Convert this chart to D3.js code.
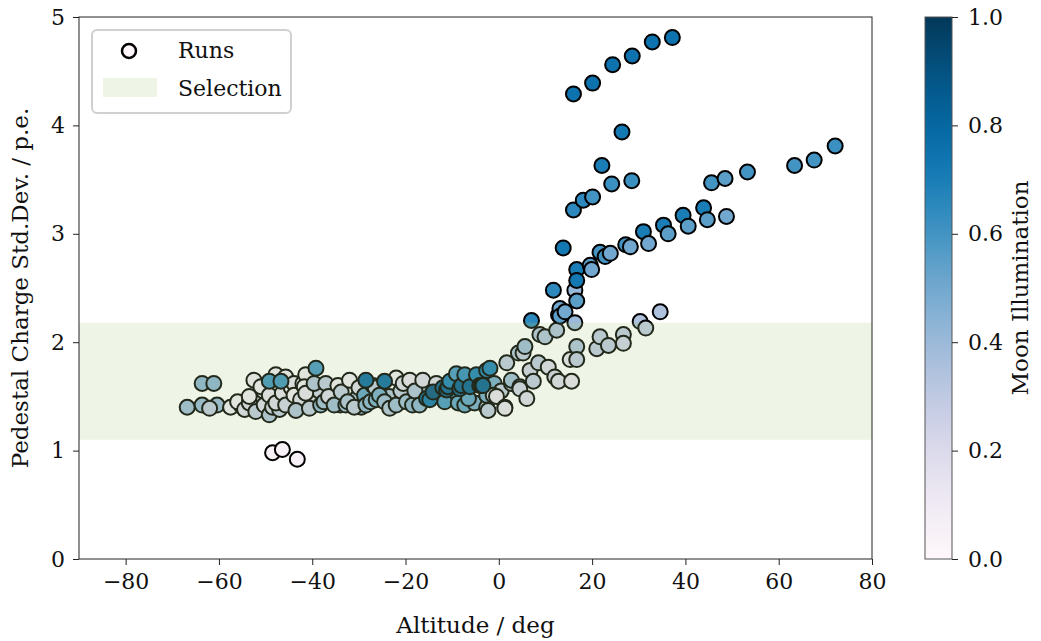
<!DOCTYPE html>
<html>
<head>
<meta charset="utf-8">
<script src="https://cdn.jsdelivr.net/npm/d3@7"></script>
<style>
  body { margin: 0; background: #fff; }
  svg text { font-family: "DejaVu Serif", serif; fill: #111; }
</style>
</head>
<body>
<div id="container"></div>
<script>
// runs as [altitude (deg), pedestal charge std dev (p.e.), moon illumination]
const runsBand = [
  [-66.8, 1.40, 0.40], [-63.6, 1.62, 0.45], [-61.1, 1.62, 0.45], [-63.6, 1.42, 0.42],
  [-60.4, 1.42, 0.42], [-62.0, 1.39, 0.30], [-57.5, 1.40, 0.10], [-55.3, 1.42, 0.15],
  [-56.0, 1.45, 0.10], [-54.5, 1.38, 0.20], [-51.5, 1.47, 0.10], [-50.5, 1.55, 0.10],
  [-53.5, 1.44, 0.20], [-53.5, 1.50, 0.10], [-52.5, 1.65, 0.10], [-52.1, 1.36, 0.30],
  [-51.0, 1.59, 0.10], [-50.3, 1.42, 0.20], [-49.2, 1.33, 0.35], [-49.2, 1.51, 0.15],
  [-48.5, 1.40, 0.25], [-47.0, 1.38, 0.30], [-46.0, 1.48, 0.10], [-44.8, 1.45, 0.20],
  [-47.8, 1.70, 0.10], [-47.8, 1.44, 0.20], [-46.4, 1.53, 0.15], [-45.7, 1.68, 0.10],
  [-45.7, 1.42, 0.25], [-44.5, 1.58, 0.10], [-43.9, 1.62, 0.15], [-43.9, 1.51, 0.10],
  [-42.5, 1.47, 0.20], [-42.0, 1.62, 0.15], [-40.0, 1.48, 0.20], [-38.5, 1.55, 0.25],
  [-43.5, 1.37, 0.35], [-41.4, 1.70, 0.10], [-41.7, 1.59, 0.10], [-41.4, 1.53, 0.15],
  [-40.6, 1.39, 0.30], [-39.6, 1.62, 0.35], [-38.2, 1.42, 0.45], [-37.1, 1.62, 0.30],
  [-37.5, 1.45, 0.40], [-34.0, 1.42, 0.40], [-30.5, 1.48, 0.35], [-29.5, 1.40, 0.40],
  [-36.5, 1.50, 0.20], [-35.3, 1.42, 0.40], [-34.5, 1.60, 0.10], [-33.8, 1.54, 0.30],
  [-32.8, 1.42, 0.40], [-32.0, 1.65, 0.10], [-32.4, 1.45, 0.35], [-31.0, 1.40, 0.30],
  [-30.0, 1.58, 0.20], [-28.8, 1.51, 0.55], [-28.5, 1.42, 0.45], [-27.0, 1.60, 0.30],
  [-27.5, 1.45, 0.45], [-26.5, 1.58, 0.30], [-23.5, 1.50, 0.35], [-21.0, 1.45, 0.40],
  [-26.3, 1.47, 0.50], [-25.6, 1.51, 0.50], [-24.5, 1.45, 0.40], [-23.4, 1.39, 0.35],
  [-22.0, 1.67, 0.10], [-22.0, 1.42, 0.40], [-21.0, 1.55, 0.30], [-19.8, 1.45, 0.40],
  [-20.5, 1.62, 0.20], [-18.5, 1.42, 0.45], [-16.0, 1.55, 0.40], [-9.5, 1.50, 0.60],
  [-19.1, 1.65, 0.15], [-18.0, 1.55, 0.35], [-17.0, 1.42, 0.45], [-16.3, 1.65, 0.20],
  [-13.4, 1.62, 0.20], [-12.5, 1.50, 0.60], [-11.6, 1.45, 0.60], [-8.7, 1.44, 0.55],
  [-7.3, 1.42, 0.55], [-5.2, 1.44, 0.50], [-2.6, 1.40, 0.35], [-2.6, 1.51, 0.50],
  [-6.5, 1.48, 0.55], [-1.0, 1.62, 0.50], [0.5, 1.55, 0.30],
  [-2.3, 1.37, 0.30], [-1.2, 1.51, 0.30], [-0.5, 1.50, 0.15], [1.3, 1.40, 0.20],
  [1.3, 1.39, 0.15],
  [-49.2, 1.64, 0.62], [-46.7, 1.64, 0.62], [-39.2, 1.76, 0.60], [-28.5, 1.65, 0.80],
  [-24.5, 1.64, 0.80], [-15.5, 1.48, 0.85], [-14.8, 1.47, 0.75], [-14.1, 1.54, 0.90],
  [-12.0, 1.58, 0.85], [-5.5, 1.62, 0.85],
  [-11.2, 1.56, 0.90], [-10.9, 1.59, 0.85], [-10.5, 1.64, 0.70], [-9.1, 1.71, 0.60],
  [-8.4, 1.57, 0.90], [-8.0, 1.60, 0.85], [-7.3, 1.70, 0.65], [-6.2, 1.59, 0.85],
  [-4.8, 1.70, 0.70], [-4.1, 1.60, 0.90], [-3.7, 1.60, 0.85], [-3.4, 1.60, 0.85],
  [-2.6, 1.74, 0.70], [-1.9, 1.76, 0.70]
];

const runsRising = [
  [1.7, 1.81, 0.30], [2.7, 1.62, 0.30], [2.7, 1.65, 0.40], [4.2, 1.90, 0.35],
  [4.5, 1.59, 0.30], [4.5, 1.57, 0.25], [5.2, 1.90, 0.30], [5.6, 1.96, 0.40],
  [6.0, 1.48, 0.20], [6.7, 1.74, 0.25], [7.0, 2.20, 0.65], [7.4, 1.64, 0.30],
  [8.5, 1.81, 0.30], [8.8, 2.07, 0.35], [9.9, 2.05, 0.35], [10.6, 1.77, 0.20],
  [11.7, 2.48, 0.65], [12.0, 1.68, 0.25], [12.4, 2.11, 0.35], [12.8, 1.64, 0.20],
  [12.8, 2.25, 0.45], [13.1, 2.31, 0.50], [13.1, 2.24, 0.55], [13.8, 2.87, 0.72],
  [14.2, 2.28, 0.50], [15.3, 1.84, 0.15], [15.6, 1.64, 0.15], [16.0, 3.22, 0.65],
  [16.3, 2.48, 0.40], [16.3, 2.18, 0.40], [16.7, 2.67, 0.70], [16.7, 2.57, 0.72],
  [16.7, 2.38, 0.55], [16.7, 1.96, 0.35], [16.7, 1.84, 0.30]
];

const runsMidBranch = [
  [18.1, 3.31, 0.65], [19.6, 2.71, 0.55], [19.9, 2.67, 0.50], [20.1, 3.34, 0.60],
  [21.0, 1.94, 0.30], [21.7, 2.83, 0.60], [21.7, 2.05, 0.30], [22.1, 3.63, 0.70],
  [22.8, 2.79, 0.60], [23.5, 1.97, 0.30], [23.9, 2.82, 0.50], [24.2, 3.46, 0.62],
  [26.4, 3.94, 0.72], [26.7, 2.07, 0.30], [26.7, 1.99, 0.25], [27.2, 2.90, 0.60],
  [28.2, 2.88, 0.50], [28.5, 3.49, 0.62], [30.3, 2.19, 0.35], [31.0, 3.02, 0.70],
  [31.5, 2.13, 0.30], [32.1, 2.91, 0.50], [34.6, 2.28, 0.35], [35.3, 3.08, 0.70],
  [36.3, 3.00, 0.55], [39.5, 3.17, 0.70], [40.6, 3.07, 0.55], [43.9, 3.24, 0.70],
  [44.7, 3.13, 0.55], [45.6, 3.47, 0.60], [48.5, 3.51, 0.55], [48.8, 3.16, 0.50],
  [53.3, 3.57, 0.60], [63.4, 3.63, 0.60], [67.6, 3.68, 0.60], [72.1, 3.81, 0.62]
];

const runsUpperBranch = [
  [16.0, 4.29, 0.75], [20.1, 4.39, 0.75], [24.4, 4.56, 0.75],
  [28.6, 4.64, 0.75], [32.9, 4.77, 0.75], [37.2, 4.81, 0.75]
];

const runsLow = [[-48.5, 0.98, 0.05], [-46.4, 1.01, 0.05], [-43.2, 0.92, 0.05]];

// selection band limits
const selectionRange = [1.1, 2.18];

const xTicks = [-80, -60, -40, -20, 0, 20, 40, 60, 80];
const yTicks = [0, 1, 2, 3, 4, 5];
const cbTicks = [0, 0.2, 0.4, 0.6, 0.8, 1.0];

const width = 1041;
const height = 641;
const plot = { left: 79, right: 872, top: 17, bottom: 559 };
const cbar = { left: 925, right: 952 };
const tickFont = 22;
const labelFont = 23;

const svg = d3.select("#container").append("svg")
  .attr("width", width)
  .attr("height", height);

const x = d3.scaleLinear().domain([-90, 80]).range([plot.left, plot.right]);
const y = d3.scaleLinear().domain([0, 5]).range([plot.bottom, plot.top]);
const color = d3.scaleSequential(d3.interpolatePuBu).domain([0, 1]);

const allRuns = runsBand.concat(runsRising, runsMidBranch, runsUpperBranch, runsLow);

// scatter points
svg.append("g")
  .selectAll("circle")
  .data(allRuns)
  .enter()
  .append("circle")
  .attr("cx", (d) => x(d[0]))
  .attr("cy", (d) => y(d[1]))
  .attr("r", 7.5)
  .attr("fill", (d) => color(d[2]))
  .attr("stroke", "#000")
  .attr("stroke-width", 2);

// selection band drawn over the points, semi transparent
svg.append("rect")
  .attr("x", plot.left)
  .attr("width", plot.right - plot.left)
  .attr("y", y(selectionRange[1]))
  .attr("height", y(selectionRange[0]) - y(selectionRange[1]))
  .attr("fill", "#aacd82")
  .attr("opacity", 0.2);

// frame
svg.append("rect")
  .attr("x", plot.left)
  .attr("y", plot.top)
  .attr("width", plot.right - plot.left)
  .attr("height", plot.bottom - plot.top)
  .attr("fill", "none")
  .attr("stroke", "#222")
  .attr("stroke-width", 1);

// axes
const xAxis = d3.axisBottom(x).tickValues(xTicks).tickFormat(d3.format("d")).tickSize(6).tickPadding(8);
const yAxis = d3.axisLeft(y).tickValues(yTicks).tickFormat(d3.format("d")).tickSize(6).tickPadding(8);

const gx = svg.append("g")
  .attr("transform", "translate(0," + plot.bottom + ")")
  .call(xAxis);
const gy = svg.append("g")
  .attr("transform", "translate(" + plot.left + ",0)")
  .call(yAxis);

[gx, gy].forEach((g) => {
  g.select(".domain").remove();
  g.selectAll("line").attr("stroke", "#222");
  g.selectAll("text").attr("font-size", tickFont).attr("font-family", "DejaVu Serif").attr("fill", "#111");
});

svg.append("text")
  .attr("x", (plot.left + plot.right) / 2)
  .attr("y", 633)
  .attr("text-anchor", "middle")
  .attr("font-size", labelFont)
  .text("Altitude / deg");

svg.append("text")
  .attr("transform", "translate(28," + (plot.top + plot.bottom) / 2 + ") rotate(-90)")
  .attr("text-anchor", "middle")
  .attr("font-size", labelFont)
  .text("Pedestal Charge Std.Dev. / p.e.");

// legend
const legend = svg.append("g");
legend.append("rect")
  .attr("x", 92).attr("y", 30)
  .attr("width", 199).attr("height", 83)
  .attr("rx", 5)
  .attr("fill", "#fff")
  .attr("fill-opacity", 0.8)
  .attr("stroke", "#d0d0d0")
  .attr("stroke-width", 2);
legend.append("circle")
  .attr("cx", 129).attr("cy", 51).attr("r", 7)
  .attr("fill", color(0))
  .attr("stroke", "#000")
  .attr("stroke-width", 2.5);
legend.append("rect")
  .attr("x", 103).attr("y", 78)
  .attr("width", 54).attr("height", 19)
  .attr("fill", "#aacd82")
  .attr("opacity", 0.2);
legend.append("text")
  .attr("x", 178).attr("y", 58)
  .attr("font-size", tickFont)
  .text("Runs");
legend.append("text")
  .attr("x", 178).attr("y", 96)
  .attr("font-size", tickFont)
  .text("Selection");

// colorbar
const cbScale = d3.scaleLinear().domain([0, 1]).range([plot.bottom, plot.top]);
const defs = svg.append("defs");
const grad = defs.append("linearGradient")
  .attr("id", "cbGrad")
  .attr("x1", 0).attr("y1", 1)
  .attr("x2", 0).attr("y2", 0);
d3.range(0, 1.0001, 0.05).forEach((t) => {
  grad.append("stop")
    .attr("offset", t)
    .attr("stop-color", color(t));
});
svg.append("rect")
  .attr("x", cbar.left)
  .attr("y", plot.top)
  .attr("width", cbar.right - cbar.left)
  .attr("height", plot.bottom - plot.top)
  .attr("fill", "url(#cbGrad)")
  .attr("stroke", "#555")
  .attr("stroke-width", 1);

const cbAxis = d3.axisRight(cbScale)
  .tickValues(cbTicks)
  .tickFormat(d3.format(".1f"))
  .tickSize(6)
  .tickPadding(10);
const gcb = svg.append("g")
  .attr("transform", "translate(" + cbar.right + ",0)")
  .call(cbAxis);
gcb.select(".domain").remove();
gcb.selectAll("line").attr("stroke", "#222");
gcb.selectAll("text").attr("font-size", tickFont).attr("font-family", "DejaVu Serif").attr("fill", "#111");

svg.append("text")
  .attr("transform", "translate(1028," + (plot.top + plot.bottom) / 2 + ") rotate(-90)")
  .attr("text-anchor", "middle")
  .attr("font-size", labelFont)
  .text("Moon Illumination");
</script>
</body>
</html>
